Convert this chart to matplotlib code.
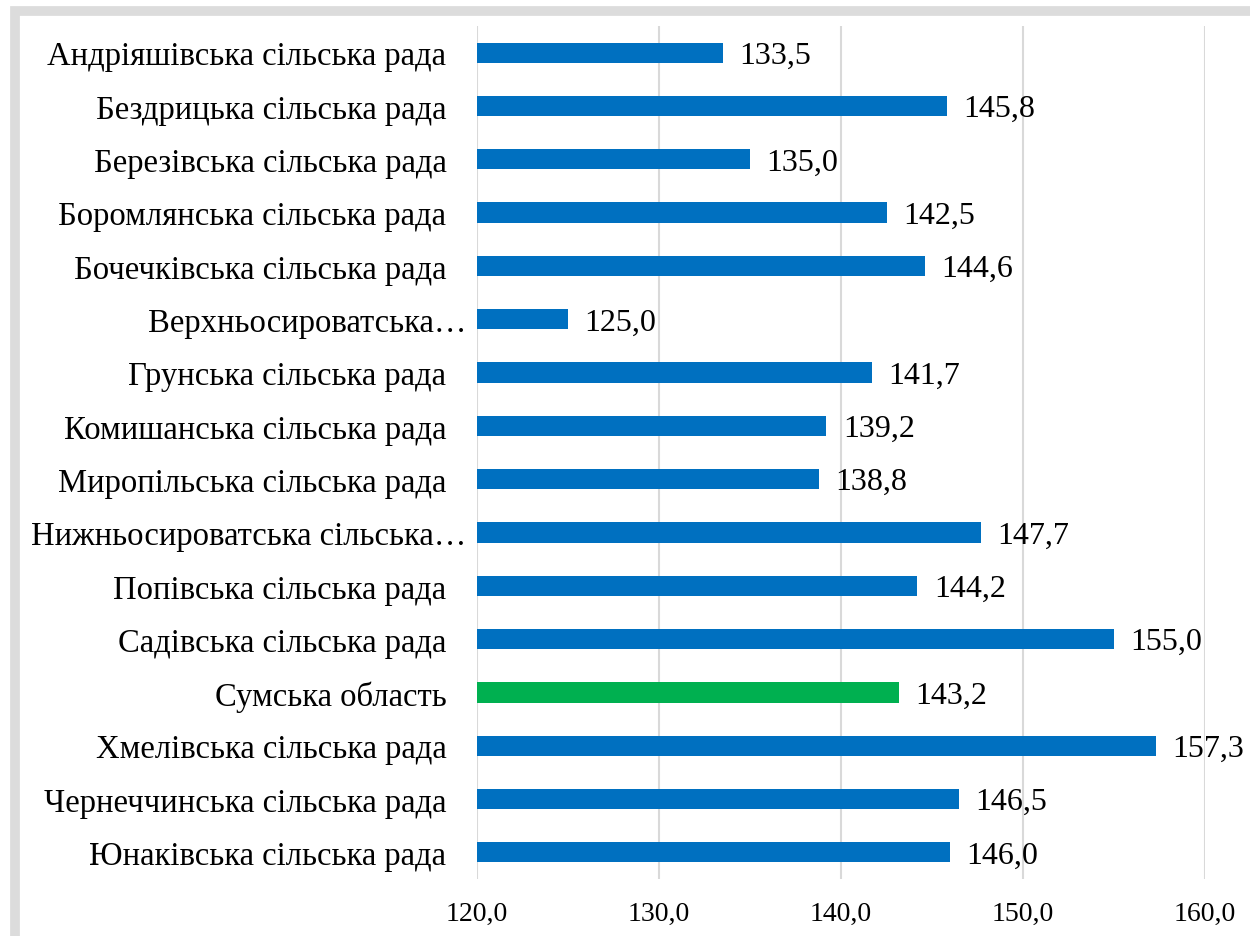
import matplotlib
matplotlib.use("Agg")
import matplotlib.pyplot as plt
import matplotlib.transforms as mtransforms
from matplotlib.patches import Rectangle

categories = [
    "Андріяшівська сільська рада",
    "Бездрицька сільська рада",
    "Березівська сільська рада",
    "Боромлянська сільська рада",
    "Бочечківська сільська рада",
    "Верхньосироватська…",
    "Грунська сільська рада",
    "Комишанська сільська рада",
    "Миропільська сільська рада",
    "Нижньосироватська сільська…",
    "Попівська сільська рада",
    "Садівська сільська рада",
    "Сумська область",
    "Хмелівська сільська рада",
    "Чернеччинська сільська рада",
    "Юнаківська сільська рада",
]
values = [133.5, 145.8, 135.0, 142.5, 144.6, 125.0, 141.7, 139.2, 138.8,
          147.7, 144.2, 155.0, 143.2, 157.3, 146.5, 146.0]
ticks = [120, 130, 140, 150, 160]

colors = ["#00B050" if c == "Сумська область" else "#0070C0" for c in categories]

fig = plt.figure(figsize=(12.5, 9.37), dpi=100)
# outer frame with shadow (only top/left visible)
fig.patches.append(Rectangle((0.012, -0.05), 1.1, 1.037, transform=fig.transFigure,
                             facecolor="none", edgecolor="#dcdcdc", linewidth=7, zorder=0))
ax = fig.add_axes([477/1250, 1 - 880/937, (1205-477)/1250, (880-27)/937])

y = list(range(len(categories)))
ax.barh(y, [v - 120 for v in values], left=120, height=0.38, color=colors, zorder=3)
ax.set_ylim(len(categories) - 0.5, -0.5)
ax.set_xlim(120, 160)
ax.set_xticks(ticks)
ax.set_xticklabels([f"{t:.1f}".replace(".", ",") for t in ticks],
                   fontfamily="Liberation Serif", fontsize=20)
ax.set_yticks(y)
ax.set_yticklabels(categories, fontfamily="Liberation Serif", fontsize=23.5)
ax.tick_params(axis="both", length=0)
ax.tick_params(axis="x", pad=16)
ax.tick_params(axis="y", pad=22)
ax.grid(axis="x", color="#d9d9d9", linewidth=1.5, zorder=0)
for s in ax.spines.values():
    s.set_visible(False)

# truncated labels sit closer to the axis (as in the original)
for lbl in ax.get_yticklabels():
    if lbl.get_text().endswith("…"):
        lbl.set_transform(lbl.get_transform() +
                          mtransforms.ScaledTranslation(0.2, 0, fig.dpi_scale_trans))

for yi, v in zip(y, values):
    ax.text(v + 0.9, yi + 0.05, f"{v:.1f}".replace(".", ","), va="center", ha="left",
            fontfamily="Liberation Serif", fontsize=23, zorder=4)

fig.savefig("out.png", dpi=100)
